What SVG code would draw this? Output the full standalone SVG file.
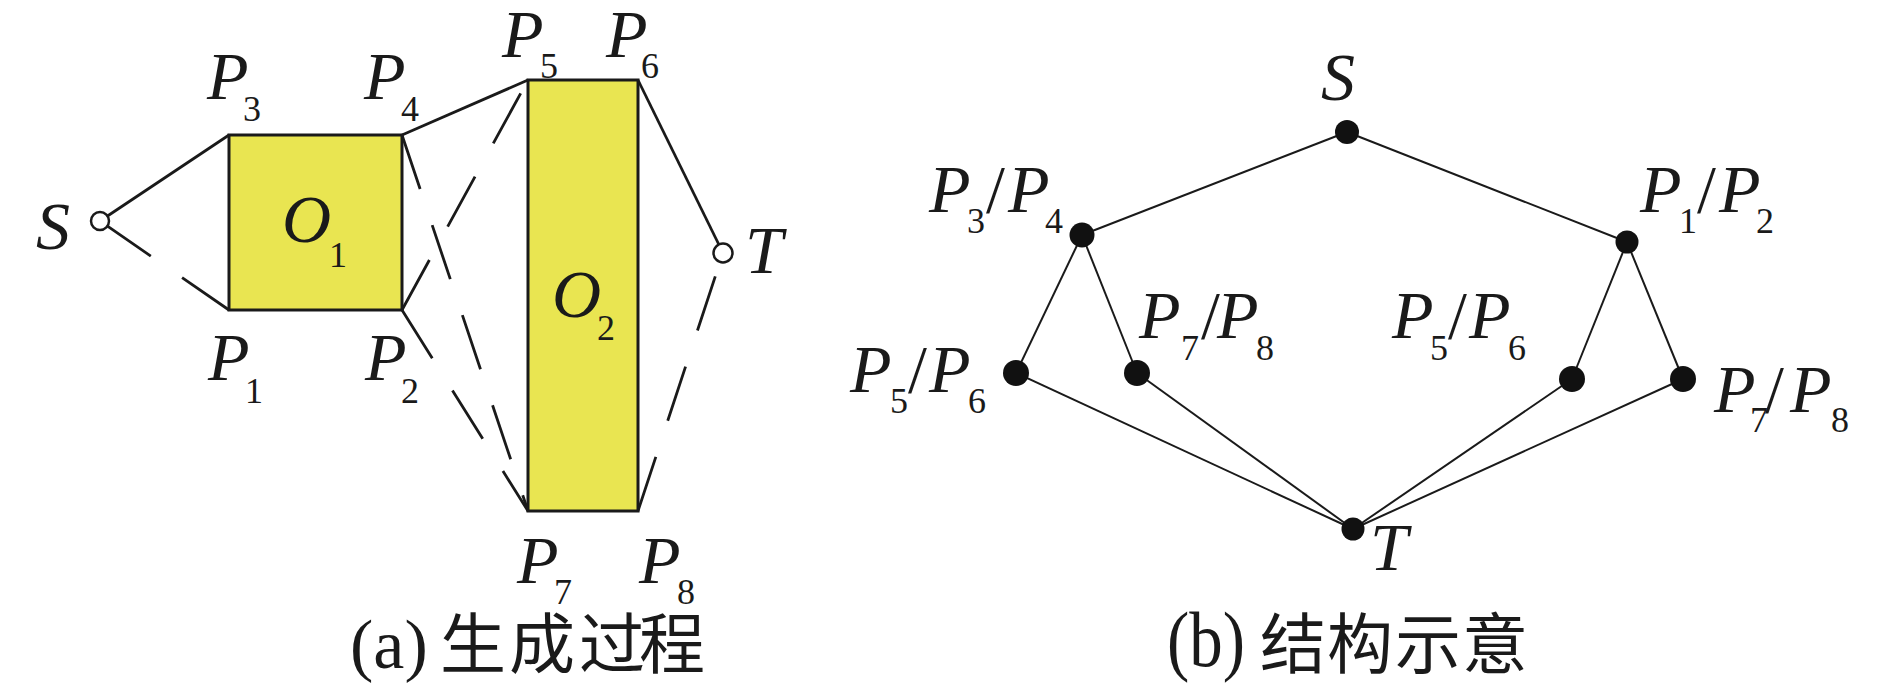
<svg xmlns="http://www.w3.org/2000/svg" width="1890" height="688" viewBox="0 0 1890 688">
<style>
  text { font-family: 'Liberation Serif', 'Times New Roman', serif; fill: #1a1a1a; }
  .it { font-style: italic; font-size: 68px; }
  .sub { font-style: normal; font-size: 36px; }
  .sl { font-style: normal; font-size: 68px; }
  .cap { font-size: 70px; }
  .cjk { font-family: 'Liberation Serif', 'Noto Sans CJK SC', sans-serif; font-size: 66px; }
  .obs { fill: #E9E551; stroke: #1a1a1a; stroke-width: 3; }
  .solid { stroke: #1a1a1a; stroke-width: 2.8; fill: none; }
  .dash { stroke: #1a1a1a; stroke-width: 2.8; fill: none; stroke-dasharray: 57 38; }
  .thin { stroke: #1a1a1a; stroke-width: 2; fill: none; }
  .term { fill: #ffffff; stroke: #1a1a1a; stroke-width: 2.5; }
  .dot { fill: #111111; }
</style>

<!-- (a) generation process -->
<g id="connectors-a">
  <line class="solid" x1="100" y1="221" x2="229" y2="135"/>
  <line class="dash" x1="229" y1="310" x2="100" y2="221"/>
  <line class="solid" x1="402" y1="135" x2="528" y2="80"/>
  <line class="dash" x1="402" y1="310" x2="528" y2="80"/>
  <line class="dash" x1="402" y1="135" x2="528" y2="511"/>
  <line class="dash" x1="402" y1="310" x2="528" y2="511"/>
  <line class="solid" x1="638" y1="80" x2="723" y2="253"/>
  <line class="dash" x1="638" y1="511" x2="723" y2="253"/>
</g>

<g id="O1">
  <rect class="obs" x="229" y="135" width="173" height="175"/>
  <text class="it" x="282" y="242">O</text>
  <text class="sub" x="329" y="267">1</text>
</g>
<g id="O2">
  <rect class="obs" x="528" y="80" width="110" height="431"/>
  <text class="it" x="552" y="317">O</text>
  <text class="sub" x="597" y="340">2</text>
</g>

<g id="S-a">
  <circle class="term" cx="100" cy="221" r="9"/>
  <text class="it" x="36" y="249">S</text>
</g>
<g id="T-a">
  <circle class="term" cx="723" cy="253" r="9.5"/>
  <text class="it" x="745" y="273">T</text>
</g>

<g id="labels-a">
  <text class="it" x="207" y="99">P</text><text class="sub" x="243" y="121">3</text>
  <text class="it" x="364" y="99">P</text><text class="sub" x="401" y="121">4</text>
  <text class="it" x="502" y="57">P</text><text class="sub" x="540" y="78">5</text>
  <text class="it" x="606" y="57">P</text><text class="sub" x="641" y="78">6</text>
  <text class="it" x="208" y="380">P</text><text class="sub" x="245" y="403">1</text>
  <text class="it" x="365" y="380">P</text><text class="sub" x="401" y="403">2</text>
  <text class="it" x="517" y="583">P</text><text class="sub" x="554" y="604">7</text>
  <text class="it" x="639" y="583">P</text><text class="sub" x="677" y="604">8</text>
</g>

<g id="caption-a">
  <text class="cap" x="350" y="668">(a)</text>
  <text class="cjk" x="440 509 579 639" y="668">生成过程</text>
</g>

<!-- (b) structure -->
<g id="connectors-b">
  <line class="thin" x1="1347" y1="132" x2="1082" y2="235"/>
  <line class="thin" x1="1347" y1="132" x2="1627" y2="242"/>
  <line class="thin" x1="1082" y1="235" x2="1016" y2="373"/>
  <line class="thin" x1="1082" y1="235" x2="1137" y2="373"/>
  <line class="thin" x1="1627" y1="242" x2="1572" y2="379"/>
  <line class="thin" x1="1627" y1="242" x2="1683" y2="379"/>
  <line class="thin" x1="1016" y1="373" x2="1353" y2="529"/>
  <line class="thin" x1="1137" y1="373" x2="1353" y2="529"/>
  <line class="thin" x1="1572" y1="379" x2="1353" y2="529"/>
  <line class="thin" x1="1683" y1="379" x2="1353" y2="529"/>
</g>

<g id="S-b">
  <circle class="dot" cx="1347" cy="132" r="12"/>
  <text class="it" x="1321" y="100">S</text>
</g>
<g id="P3P4-b">
  <circle class="dot" cx="1082" cy="235" r="12.5"/>
  <text class="it" x="929" y="212">P</text><text class="sub" x="967" y="233">3</text>
  <text class="sl" x="986" y="212">/</text>
  <text class="it" x="1008" y="212">P</text><text class="sub" x="1045" y="233">4</text>
</g>
<g id="P1P2-b">
  <circle class="dot" cx="1627" cy="242" r="11.5"/>
  <text class="it" x="1640" y="212">P</text><text class="sub" x="1679" y="233">1</text>
  <text class="sl" x="1697" y="212">/</text>
  <text class="it" x="1719" y="212">P</text><text class="sub" x="1756" y="233">2</text>
</g>
<g id="P5P6-left">
  <circle class="dot" cx="1016" cy="373" r="13"/>
  <text class="it" x="850" y="392">P</text><text class="sub" x="890" y="413">5</text>
  <text class="sl" x="908" y="392">/</text>
  <text class="it" x="929" y="392">P</text><text class="sub" x="968" y="413">6</text>
</g>
<g id="P7P8-left">
  <circle class="dot" cx="1137" cy="373" r="13"/>
  <text class="it" x="1139" y="338">P</text><text class="sub" x="1181" y="360">7</text>
  <text class="sl" x="1201" y="338">/</text>
  <text class="it" x="1217" y="338">P</text><text class="sub" x="1256" y="360">8</text>
</g>
<g id="P5P6-right">
  <circle class="dot" cx="1572" cy="379" r="13"/>
  <text class="it" x="1392" y="338">P</text><text class="sub" x="1430" y="360">5</text>
  <text class="sl" x="1448" y="338">/</text>
  <text class="it" x="1469" y="338">P</text><text class="sub" x="1508" y="360">6</text>
</g>
<g id="P7P8-right">
  <circle class="dot" cx="1683" cy="379" r="13"/>
  <text class="it" x="1714" y="412">P</text><text class="sub" x="1750" y="432">7</text>
  <text class="sl" x="1765" y="412">/</text>
  <text class="it" x="1790" y="412">P</text><text class="sub" x="1831" y="432">8</text>
</g>
<g id="T-b">
  <circle class="dot" cx="1353" cy="529" r="11.5"/>
  <text class="it" x="1370" y="570">T</text>
</g>

<g id="caption-b">
  <text class="cap" x="1167" y="666" style="font-size:78px" textLength="78" lengthAdjust="spacingAndGlyphs">(b)</text>
  <text class="cjk" x="1260 1327 1395 1462" y="668">结构示意</text>
</g>
</svg>
